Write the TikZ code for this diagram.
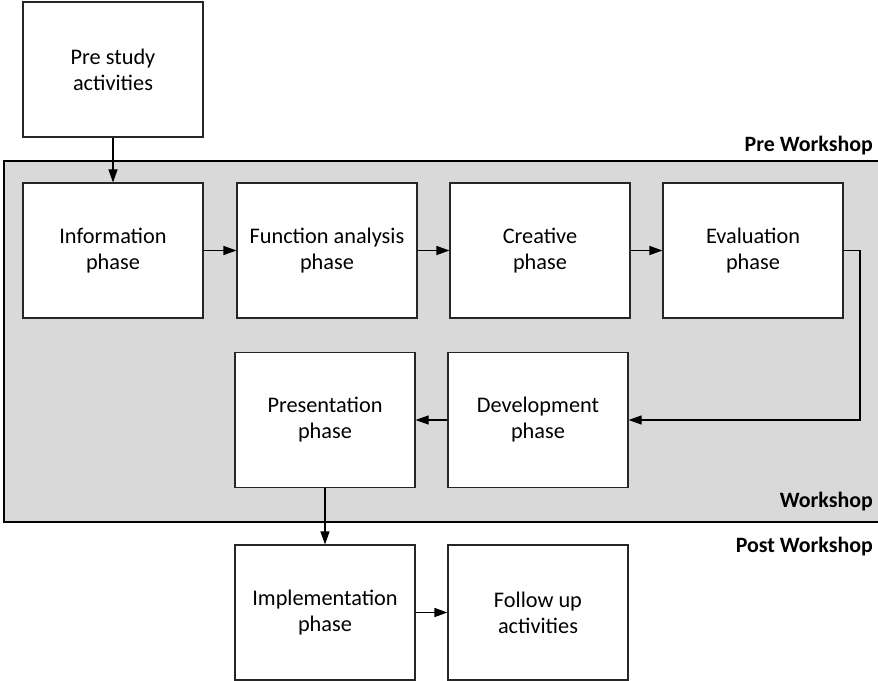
\documentclass[tikz,border=0pt]{standalone}
\usepackage{fontspec}
\setmainfont{Carlito}
\usetikzlibrary{arrows.meta}
\tikzset{
  phasebox/.style={draw=black!85, line width=1.1bp, fill=white, align=center,
    minimum width=180bp, minimum height=135bp, inner sep=0pt,
    font=\fontsize{22.3bp}{26bp}\selectfont},
  flow/.style={draw=black, line width=1.1bp, -{Triangle[length=13bp,width=9bp]}},
  zonelabel/.style={anchor=base east, inner sep=0pt, font=\fontsize{21.9bp}{25bp}\selectfont\bfseries},
}
\begin{document}
\begin{tikzpicture}[x=1bp, y=-1bp]
  \useasboundingbox (0,0) rectangle (878,681);
  \clip (0,0) rectangle (878,681);
  % workshop zone
  \draw[fill=black!15, line width=1.5bp] (4,161) rectangle (890,522);
  % phases
  \node[phasebox] (pre)  at (113,69.5) {Pre study\\activities};
  \node[phasebox] (info) at (113,250.5) {Information\\phase};
  \node[phasebox] (func) at (327,250.5) {Function analysis\\phase};
  \node[phasebox] (crea) at (540,250.5) {Creative\\phase};
  \node[phasebox] (eval) at (753,250.5) {Evaluation\\phase};
  \node[phasebox] (pres) at (325,420) {Presentation\\phase};
  \node[phasebox] (dev)  at (538,420) {Development\\phase};
  \node[phasebox] (impl) at (325,612.5) {Implementation\\phase};
  \node[phasebox] (foll) at (538,612.5) {Follow up\\activities};
  % zone labels
  \node[zonelabel] (lpre)  at (873,152) {Pre Workshop};
  \node[zonelabel] (lwork) at (873,507) {Workshop};
  \node[zonelabel] (lpost) at (873,552) {Post Workshop};
  % connectors
  \draw[flow] (pre) -- (info);
  \draw[flow] (info) -- (func);
  \draw[flow] (func) -- (crea);
  \draw[flow] (crea) -- (eval);
  \coordinate (turn) at (860,250.5);
  \draw[flow] (eval.east) -- (turn) |- (dev.east);
  \draw[flow] (dev) -- (pres);
  \draw[flow] (pres) -- (impl);
  \draw[flow] (impl) -- (foll);
\end{tikzpicture}
\end{document}
